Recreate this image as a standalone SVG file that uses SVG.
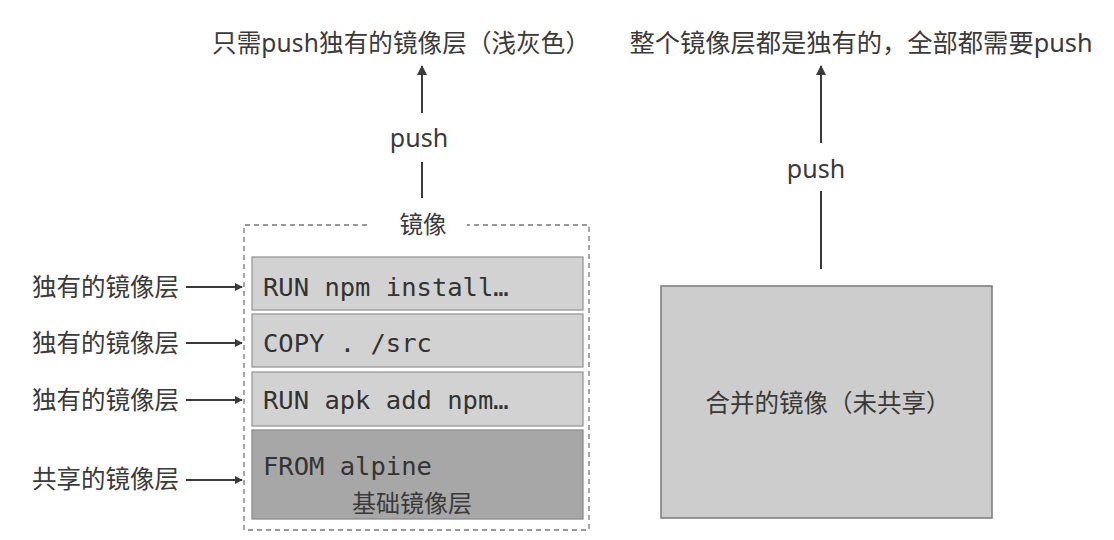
<svg xmlns="http://www.w3.org/2000/svg" width="1114" height="540" viewBox="0 0 1114 540">
<style>
.cjk{font-family:"Noto Sans","Noto Sans CJK SC",sans-serif;fill:#3a3a3a}
.mono{font-family:"DejaVu Sans Mono","Liberation Mono",monospace;fill:#333;font-size:25.5px}
.layer{fill:#d2d2d2;stroke:#999;stroke-width:1.3}
.base{fill:#a7a7a7;stroke:#8c8c8c;stroke-width:1.3}
.conn{stroke:#3a3a3a;stroke-width:2;fill:none}
.dash{stroke:#777;stroke-width:1.3;fill:none;stroke-dasharray:5 4}
</style>
<defs>
<marker id="ah" viewBox="0 0 10 10" refX="9" refY="5" markerWidth="8" markerHeight="8" markerUnits="userSpaceOnUse" orient="auto">
<path d="M0,0 L10,5 L0,10 z" fill="#3a3a3a"/>
</marker>
<marker id="au" viewBox="0 0 10 10" refX="9" refY="5" markerWidth="10" markerHeight="10" markerUnits="userSpaceOnUse" orient="auto">
<path d="M0,0 L10,5 L0,10 z" fill="#3a3a3a"/>
</marker>
</defs>
<rect width="1114" height="540" fill="#fff"/>

<g id="title-left"><text class="cjk" x="401" y="52" font-size="24.5" text-anchor="middle" textLength="378" lengthAdjust="spacing">只需push独有的镜像层（浅灰色）</text></g>
<g id="title-right"><text class="cjk" x="861" y="52" font-size="25" text-anchor="middle" textLength="463" lengthAdjust="spacingAndGlyphs">整个镜像层都是独有的，全部都需要push</text></g>

<g id="image-group">
<path class="dash" d="M367,225 H244 V530 H589 V225 H467"/>
<text class="cjk" x="423" y="233" font-size="23.5" text-anchor="middle">镜像</text>
</g>

<g id="layer-npm-install">
<rect class="layer" x="252" y="257" width="331" height="53"/>
<text class="mono" x="263" y="296">RUN npm install…</text>
</g>
<g id="layer-copy">
<rect class="layer" x="252" y="314" width="331" height="53"/>
<text class="mono" x="263" y="352">COPY . /src</text>
</g>
<g id="layer-apk">
<rect class="layer" x="252" y="372" width="331" height="54"/>
<text class="mono" x="263" y="409">RUN apk add npm…</text>
</g>
<g id="layer-base">
<rect class="base" x="252" y="430" width="331" height="89"/>
<text class="mono" x="263" y="475">FROM alpine</text>
<text class="cjk" x="412" y="512" font-size="24" text-anchor="middle" fill="#444">基础镜像层</text>
</g>

<g id="label-1"><text class="cjk" x="32" y="296" font-size="24.5">独有的镜像层</text></g>
<g id="label-2"><text class="cjk" x="32" y="352" font-size="24.5">独有的镜像层</text></g>
<g id="label-3"><text class="cjk" x="32" y="409" font-size="24.5">独有的镜像层</text></g>
<g id="label-4"><text class="cjk" x="32" y="488" font-size="24.5">共享的镜像层</text></g>

<g id="merged-image">
<rect x="661" y="286" width="331" height="232" fill="#cdcdcd" stroke="#7a7a7a" stroke-width="1.5"/>
<text class="cjk" x="828" y="412" font-size="24.5" text-anchor="middle">合并的镜像（未共享）</text>
</g>

<g id="push-left-label"><text class="cjk" x="419" y="147" font-size="25" text-anchor="middle">push</text></g>
<g id="push-right-label"><text class="cjk" x="816" y="178" font-size="25" text-anchor="middle">push</text></g>

<g id="connectors">
<line class="conn" x1="186" y1="287" x2="242" y2="287" marker-end="url(#ah)" stroke-width="1.6"/>
<line class="conn" x1="186" y1="343" x2="242" y2="343" marker-end="url(#ah)" stroke-width="1.6"/>
<line class="conn" x1="186" y1="400" x2="242" y2="400" marker-end="url(#ah)" stroke-width="1.6"/>
<line class="conn" x1="186" y1="480" x2="242" y2="480" marker-end="url(#ah)" stroke-width="1.6"/>
<line class="conn" x1="422" y1="198" x2="422" y2="162"/>
<line class="conn" x1="422" y1="113" x2="422" y2="66" marker-end="url(#au)"/>
<line class="conn" x1="821" y1="269" x2="821" y2="191"/>
<line class="conn" x1="821" y1="143" x2="821" y2="66" marker-end="url(#au)"/>
</g>
</svg>
